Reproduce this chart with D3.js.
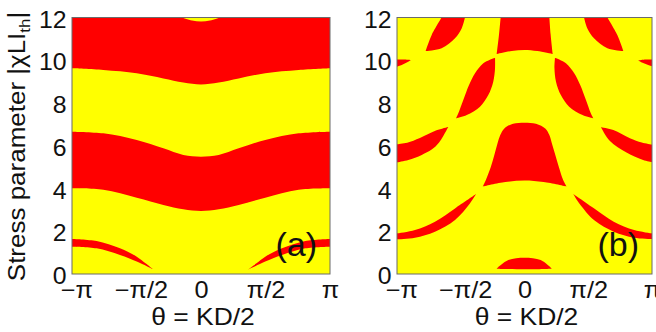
<!DOCTYPE html>
<html>
<head>
<meta charset="utf-8">
<script src="https://cdn.jsdelivr.net/npm/d3@7"></script>
<style>
  body { margin: 0; background: #fff; }
  svg text { font-family: "Liberation Sans", Arial, Helvetica, sans-serif; fill: #111; }
</style>
</head>
<body>
<svg id="chart" width="656" height="332"></svg>
<script>
// theta in units of pi, stress parameter s
const xTicks = [-1, -0.5, 0, 0.5, 1];
const xTickLabels = ["\u2212\u03c0", "\u2212\u03c0/2", "0", "\u03c0/2", "\u03c0"];
const yTicks = [0, 2, 4, 6, 8, 10, 12];

// ---- panel (a): red bands / arcs (each shape = list of edges, [theta/pi, s])
const aTopBand = [
  [[-1, 12], [1, 12]],
  [[1, 9.62], [0.757, 9.54], [0.498, 9.39], [0.292, 9.15], [0.137, 8.96], [0, 8.87],
   [-0.137, 8.96], [-0.292, 9.15], [-0.498, 9.39], [-0.757, 9.54], [-1, 9.62]]
];
const aTopCap = [
  [[-0.15, 12], [0.15, 12]],
  [[0.15, 12], [0.07, 11.86], [0, 11.81], [-0.07, 11.86], [-0.15, 12]]
];
const aMidBand = [
  [[-1, 6.66], [-0.757, 6.58], [-0.498, 6.27], [-0.292, 5.88], [-0.137, 5.57], [0, 5.49],
   [0.137, 5.57], [0.292, 5.88], [0.498, 6.27], [0.757, 6.58], [1, 6.66]],
  [[1, 4.01], [0.757, 3.94], [0.498, 3.57], [0.292, 3.23], [0.137, 3.03], [0, 2.95],
   [-0.137, 3.03], [-0.292, 3.23], [-0.498, 3.57], [-0.757, 3.94], [-1, 4.01]]
];
const aArcLeft = [
  [[-1, 1.64], [-0.809, 1.54], [-0.628, 1.20], [-0.498, 0.81], [-0.43, 0.50], [-0.37, 0.21]],
  [[-0.37, 0.21], [-0.42, 0.36], [-0.498, 0.58], [-0.628, 0.89], [-0.809, 1.20], [-1, 1.28]]
];
const aArcRight = [
  [[1, 1.64], [0.809, 1.54], [0.628, 1.20], [0.498, 0.81], [0.43, 0.50], [0.365, 0.21]],
  [[0.365, 0.21], [0.42, 0.36], [0.498, 0.58], [0.628, 0.89], [0.809, 1.20], [1, 1.28]]
];

// ---- panel (b): red islands
const bTopLeft = [
  [[-0.65, 12], [-0.728, 11.18], [-0.775, 10.43]],
  [[-0.775, 10.43], [-0.65, 10.56], [-0.545, 11.03], [-0.493, 11.49], [-0.467, 12]]
];
const bTopRight = [
  [[0.65, 12], [0.728, 11.18], [0.775, 10.43]],
  [[0.775, 10.43], [0.65, 10.56], [0.545, 11.03], [0.493, 11.49], [0.467, 12]]
];
const bTopCenter = [
  [[-0.187, 12], [-0.2, 11.2], [-0.218, 10.29]],
  [[-0.218, 10.29], [-0.1, 10.43], [0, 10.48], [0.1, 10.43], [0.221, 10.29]],
  [[0.221, 10.29], [0.205, 11.2], [0.195, 12]]
];
const bWedgeLeft = [
  [[-1, 10.04], [-0.95, 10.03], [-0.89, 10.01]],
  [[-0.89, 10.01], [-0.924, 9.89], [-0.963, 9.78], [-1, 9.70]]
];
const bWedgeRight = [
  [[1, 10.04], [0.95, 10.03], [0.893, 9.99]],
  [[0.893, 9.99], [0.926, 9.88], [0.965, 9.79], [1, 9.72]]
];
const bLobeLeft = [
  [[-0.537, 7.28], [-0.519, 7.52], [-0.48, 8.14], [-0.435, 8.84], [-0.388, 9.39], [-0.323, 9.86], [-0.231, 10.12]],
  [[-0.231, 10.12], [-0.231, 9.62], [-0.245, 9.0], [-0.284, 8.37], [-0.349, 7.83], [-0.453, 7.44], [-0.537, 7.28]]
];
const bLobeRight = [
  [[0.54, 7.28], [0.52, 7.52], [0.482, 8.14], [0.437, 8.84], [0.39, 9.39], [0.325, 9.86], [0.239, 10.12]],
  [[0.239, 10.12], [0.235, 9.62], [0.247, 9.0], [0.285, 8.37], [0.35, 7.83], [0.455, 7.44], [0.54, 7.28]]
];
const bMidLeft = [
  [[-1, 6.07], [-0.92, 6.14], [-0.82, 6.36], [-0.69, 6.72], [-0.598, 6.88]],
  [[-0.598, 6.88], [-0.67, 6.15], [-0.728, 5.82], [-0.806, 5.57], [-0.911, 5.33], [-1, 5.22]]
];
const bMidRight = [
  [[1, 6.05], [0.92, 6.15], [0.827, 6.35], [0.697, 6.74], [0.6, 6.87]],
  [[0.6, 6.87], [0.67, 6.22], [0.8, 5.68], [0.93, 5.33], [1, 5.23]]
];
const bDome = [
  [[-0.328, 4.09], [-0.3, 4.45], [-0.265, 5.0], [-0.235, 5.6], [-0.212, 6.1], [-0.19, 6.5], [-0.16, 6.8],
   [-0.09, 7.03], [0, 7.08], [0.09, 7.03], [0.165, 6.8], [0.195, 6.5], [0.215, 6.1], [0.24, 5.6],
   [0.27, 5.0], [0.3, 4.45], [0.331, 4.09]],
  [[0.331, 4.09], [0.15, 4.3], [0, 4.37], [-0.15, 4.3], [-0.328, 4.09]]
];
const bLowLeft = [
  [[-1, 1.90], [-0.859, 2.06], [-0.702, 2.45], [-0.545, 3.07], [-0.38, 3.74]],
  [[-0.38, 3.74], [-0.427, 3.31], [-0.545, 2.53], [-0.702, 1.98], [-0.859, 1.70], [-1, 1.62]]
];
const bLowRight = [
  [[1, 1.90], [0.86, 2.06], [0.7, 2.45], [0.55, 3.05], [0.383, 3.74]],
  [[0.383, 3.74], [0.43, 3.3], [0.55, 2.5], [0.7, 1.98], [0.86, 1.70], [1, 1.64]]
];
const bBottomDome = [
  [[-0.218, 0.25], [-0.127, 0.65], [0, 0.76], [0.127, 0.65], [0.213, 0.25]],
  [[0.213, 0.25], [0, 0.22], [-0.218, 0.25]]
];

const RED = "#ff0000", YELLOW = "#ffff00";

const svg = d3.select("#chart");
const y = d3.scaleLinear().domain([0, 12]).range([274, 17.5]);

const panels = [
  { id: "a", x0: 72, x1: 330, label: "(a)",
    shapes: [[aTopBand, RED], [aTopCap, YELLOW], [aMidBand, RED], [aArcLeft, RED], [aArcRight, RED]] },
  { id: "b", x0: 397, x1: 652, label: "(b)",
    shapes: [[bTopLeft, RED], [bTopRight, RED], [bTopCenter, RED], [bWedgeLeft, RED], [bWedgeRight, RED],
             [bLobeLeft, RED], [bLobeRight, RED], [bMidLeft, RED], [bMidRight, RED], [bDome, RED],
             [bLowLeft, RED], [bLowRight, RED], [bBottomDome, RED]] }
];

panels.forEach(p => {
  const x = d3.scaleLinear().domain([-1, 1]).range([p.x0, p.x1]);
  const line = d3.line().x(d => x(d[0])).y(d => y(d[1])).curve(d3.curveCatmullRom);
  const shapePath = edges => edges.map((e, i) => {
    const s = line(e);
    return i === 0 ? s : "L" + s.slice(1);
  }).join("") + "Z";

  svg.append("clipPath").attr("id", "clip-" + p.id)
    .append("rect")
    .attr("x", p.x0).attr("y", y(12))
    .attr("width", p.x1 - p.x0).attr("height", y(0) - y(12));

  const g = svg.append("g").attr("clip-path", `url(#clip-${p.id})`);
  g.append("rect")
    .attr("x", p.x0).attr("y", y(12))
    .attr("width", p.x1 - p.x0).attr("height", y(0) - y(12))
    .attr("fill", YELLOW);

  g.selectAll("path.region")
    .data(p.shapes)
    .join("path")
    .attr("class", "region")
    .attr("d", d => shapePath(d[0]))
    .attr("fill", d => d[1]);

  // frame
  svg.append("rect")
    .attr("x", p.x0).attr("y", y(12))
    .attr("width", p.x1 - p.x0).attr("height", y(0) - y(12))
    .attr("fill", "none").attr("stroke", "#6b6b6b").attr("stroke-width", 1);

  const xAxis = d3.axisBottom(x).tickValues(xTicks)
    .tickFormat((d, i) => xTickLabels[i]).tickSize(0).tickPadding(8);
  const yAxis = d3.axisLeft(y).tickValues(yTicks).tickSize(0).tickPadding(5);

  const gx = svg.append("g").attr("transform", `translate(0,${y(0)})`).call(xAxis);
  const gy = svg.append("g").attr("transform", `translate(${p.x0},0)`).call(yAxis);
  [gx, gy].forEach(a => {
    a.select(".domain").remove();
    a.selectAll("text").attr("font-size", 23).attr("fill", "#111")
      .attr("font-family", "Liberation Sans, Arial, sans-serif");
  });
  // labels with a leading minus sit a little right of their tick, as in the original
  gx.selectAll("text")
    .attr("dx", d => d < 0 ? 4 : 0)
    .attr("transform", "scale(1.1,1)");
  gy.selectAll("text").attr("dy", "0.42em").attr("transform", "scale(1.08,1)");

  // x label
  svg.append("text")
    .attr("transform", `translate(${(p.x0 + p.x1) / 2 + 2},325) scale(1.15,1)`)
    .attr("text-anchor", "middle")
    .attr("font-size", 23)
    .text("\u03b8 = KD/2");

  // panel tag
  svg.append("text")
    .attr("x", p.x1 - 13).attr("y", 256)
    .attr("text-anchor", "end")
    .attr("font-size", 34)
    .text(p.label);
});

// y label
const yl = svg.append("text")
  .attr("transform", "translate(25,146.5) rotate(-90) scale(1.13,1)")
  .attr("text-anchor", "middle")
  .attr("font-size", 23);
yl.append("tspan").text("Stress parameter |\u03c7LI");
yl.append("tspan").attr("font-size", 15).attr("dy", 5).text("th");
yl.append("tspan").attr("dy", -5).text("|");
</script>
</body>
</html>
